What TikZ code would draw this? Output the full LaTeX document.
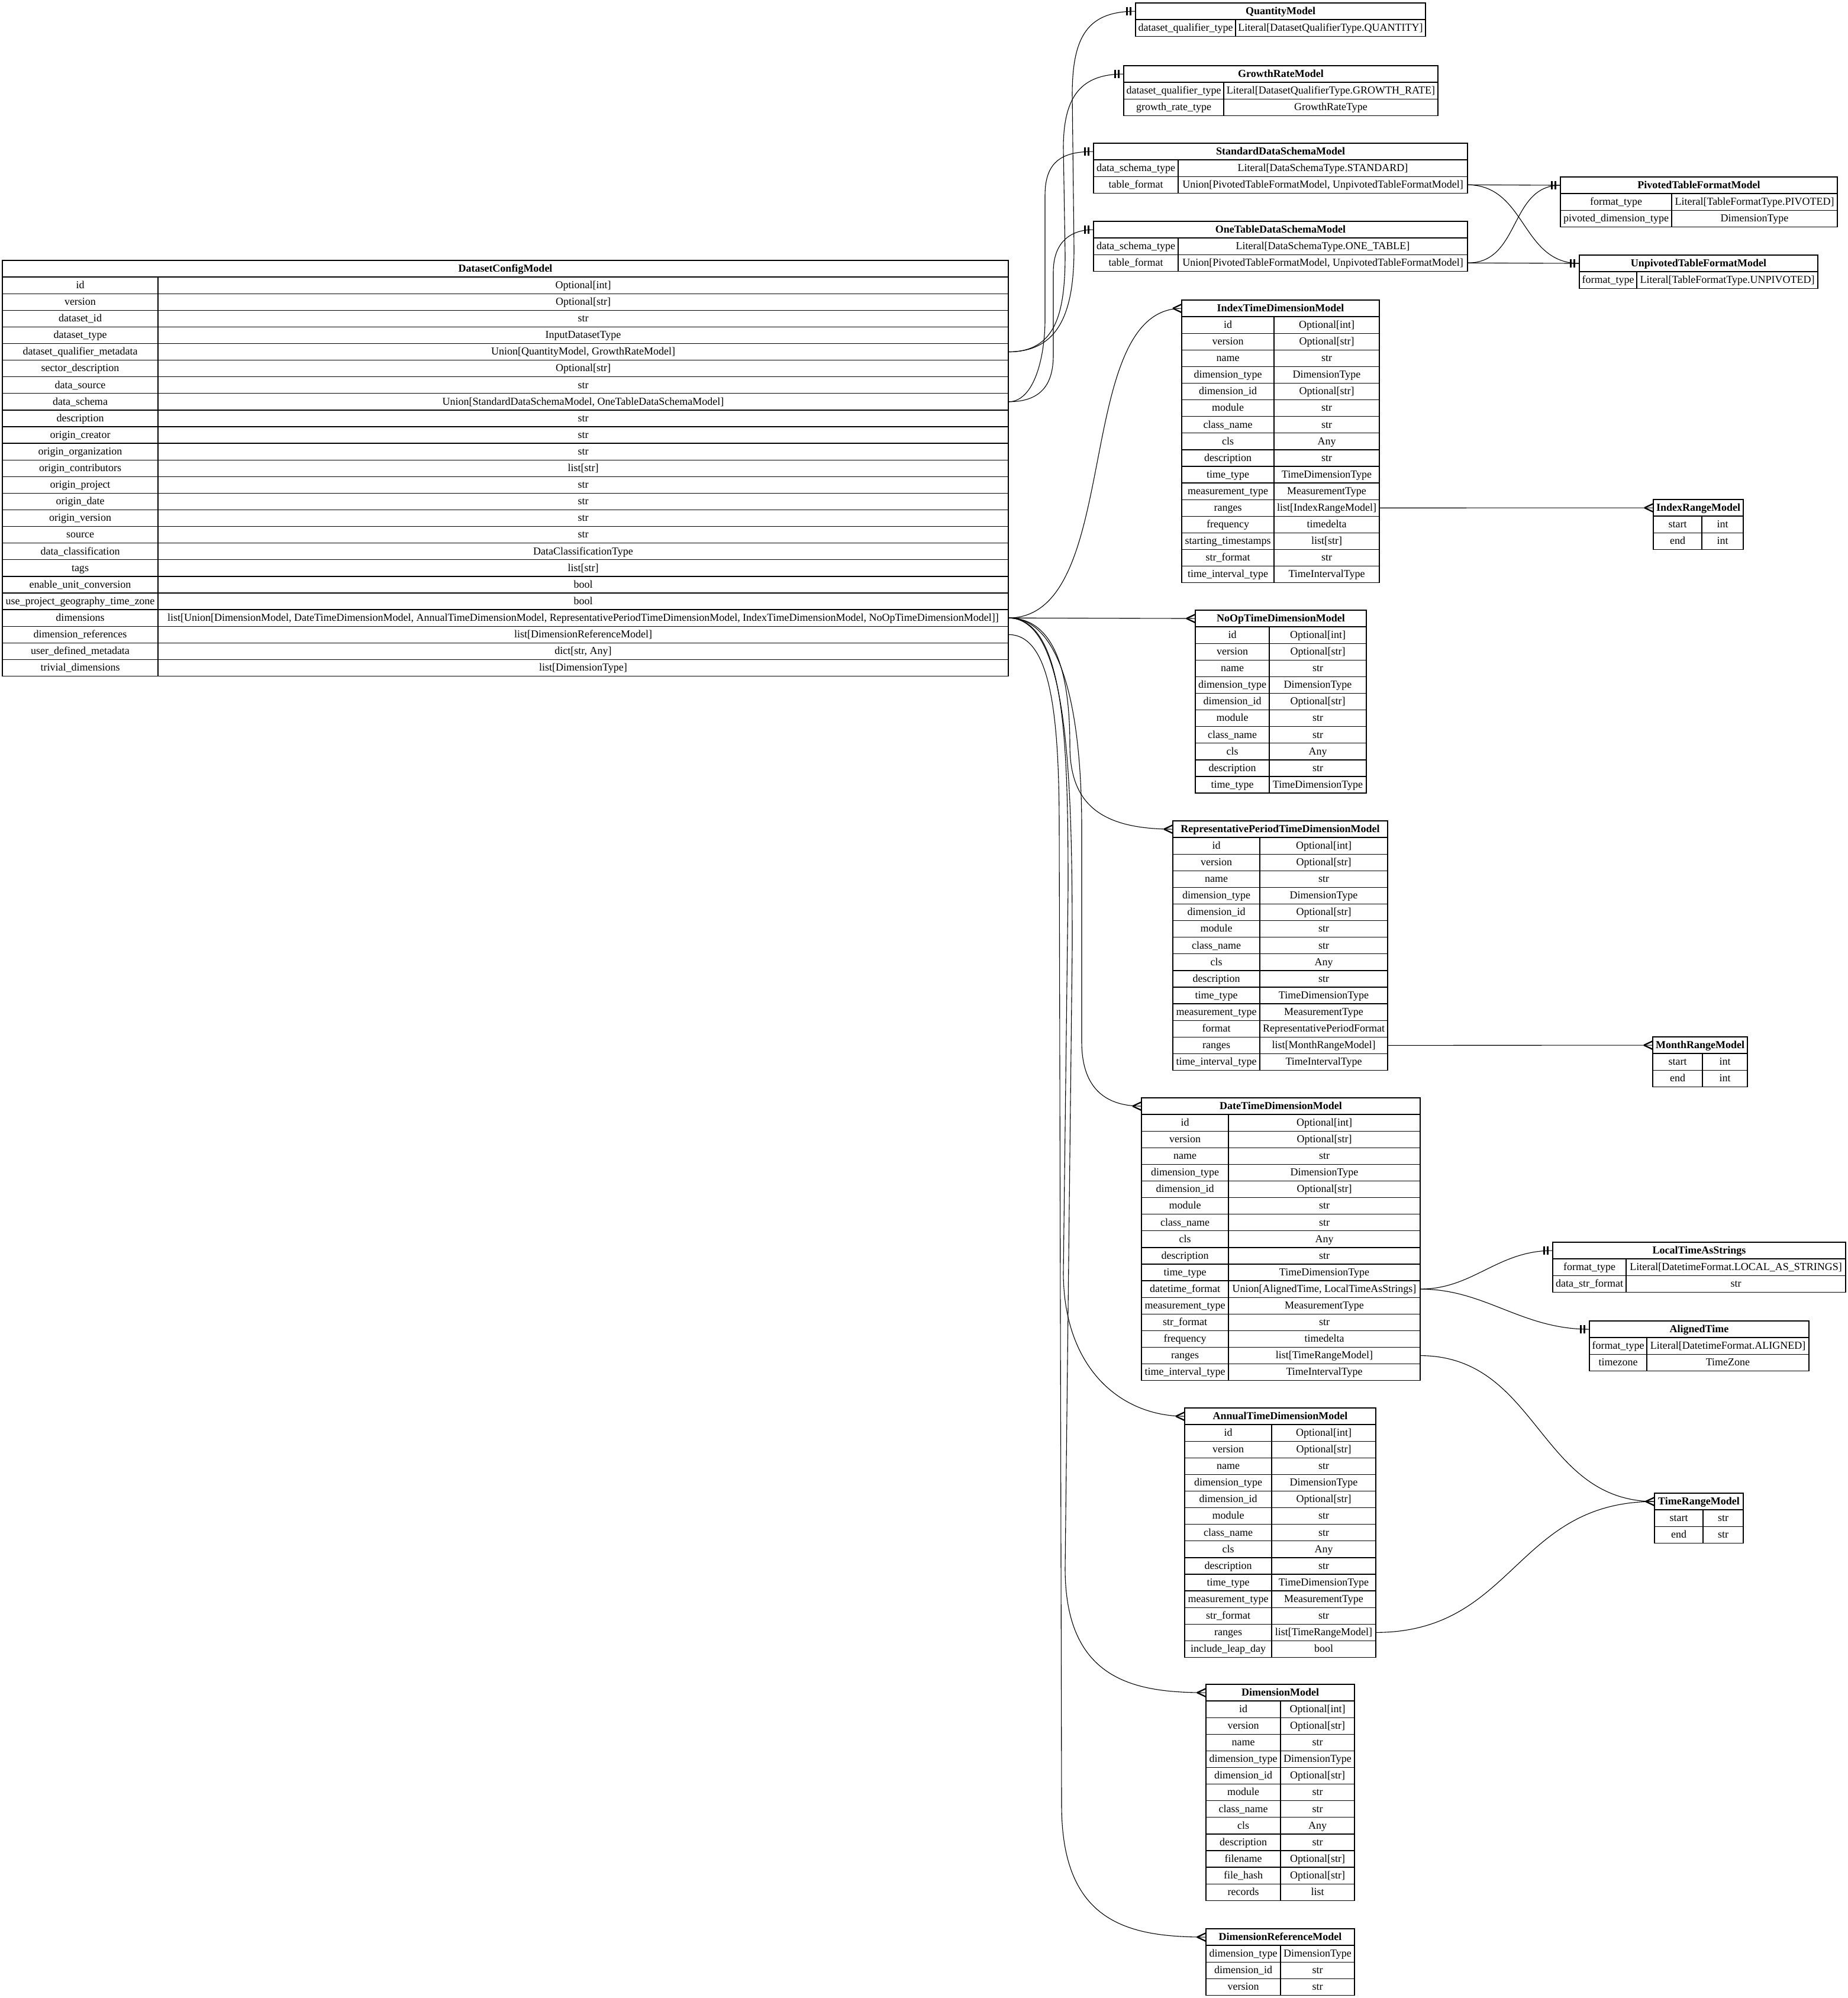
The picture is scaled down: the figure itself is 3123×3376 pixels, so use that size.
\documentclass[tikz,border=0pt]{standalone}
\usepackage{fontspec}
\setmainfont{Liberation Serif}
\usepackage{tikz}

\newcommand{\modelbox}[7]{%
  \node[hdr, minimum width={#4+#5}] (#1) at (#2,#3) {#6};
  \foreach \fname/\ftype [count=\i] in {#7} {
    \node[cell, minimum width=#4] (#1-\i) at (#2,{#3+28.1*\i}) {\fname};
    \node[cell, minimum width=#5] (#1-v\i) at ({#2+#4},{#3+28.1*\i}) {\ftype};
  }
}
\newcommand{\crowfoot}[1]{%
  \draw[crowline] ([xshift=-15pt]#1.west) -- ([yshift=7pt]#1.west)
                  ([xshift=-15pt]#1.west) -- ([yshift=-7pt]#1.west);
}
\newcommand{\onebar}[1]{%
  \draw[barline] ([xshift=-9pt,yshift=7pt]#1.west) -- ([xshift=-9pt,yshift=-7pt]#1.west)
                 ([xshift=-15pt,yshift=7pt]#1.west) -- ([xshift=-15pt,yshift=-7pt]#1.west);
}

\begin{document}
\catcode`\_=12
\begin{tikzpicture}[x=1pt,y=-1pt,
    every node/.style={font=\fontsize{18}{21}\selectfont},
    cell/.style={draw, line width=1.3pt, anchor=north west, inner sep=0pt, outer sep=0pt,
        minimum height=28.1pt, text height=13.5pt, text depth=3pt},
    hdr/.style={cell, font=\fontsize{18}{21}\selectfont\bfseries},
    link/.style={line width=1.1pt},
    crowline/.style={line width=2.3pt},
    barline/.style={line width=3pt}]
    \useasboundingbox (0,0) rectangle (3123,3376);

    \modelbox{dcm}{4}{440}{263}{1437}{DatasetConfigModel}{id/Optional[int], version/Optional[str], dataset_id/str, dataset_type/InputDatasetType, dataset_qualifier_metadata/{Union[QuantityModel, GrowthRateModel]}, sector_description/Optional[str], data_source/str, data_schema/{Union[StandardDataSchemaModel, OneTableDataSchemaModel]}, description/str, origin_creator/str, origin_organization/str, origin_contributors/list[str], origin_project/str, origin_date/str, origin_version/str, source/str, data_classification/DataClassificationType, tags/list[str], enable_unit_conversion/bool, use_project_geography_time_zone/bool, dimensions/{list[Union[DimensionModel, DateTimeDimensionModel, AnnualTimeDimensionModel, RepresentativePeriodTimeDimensionModel, IndexTimeDimensionModel, NoOpTimeDimensionModel]]}, dimension_references/list[DimensionReferenceModel], user_defined_metadata/{dict[str, Any]}, trivial_dimensions/list[DimensionType]}

    \modelbox{qm}{1919}{5}{169}{321}{QuantityModel}{dataset_qualifier_type/Literal[DatasetQualifierType.QUANTITY]}
    \modelbox{grm}{1899}{111}{169}{362}{GrowthRateModel}{dataset_qualifier_type/Literal[DatasetQualifierType.GROWTH_RATE], growth_rate_type/GrowthRateType}
    \modelbox{sds}{1848}{242}{143}{489}{StandardDataSchemaModel}{data_schema_type/Literal[DataSchemaType.STANDARD], table_format/{Union[PivotedTableFormatModel, UnpivotedTableFormatModel]}}
    \modelbox{ots}{1848}{374}{143}{489}{OneTableDataSchemaModel}{data_schema_type/Literal[DataSchemaType.ONE_TABLE], table_format/{Union[PivotedTableFormatModel, UnpivotedTableFormatModel]}}
    \modelbox{ptf}{2637}{299}{188}{280}{PivotedTableFormatModel}{format_type/Literal[TableFormatType.PIVOTED], pivoted_dimension_type/DimensionType}
    \modelbox{utf}{2669}{431}{97}{306}{UnpivotedTableFormatModel}{format_type/Literal[TableFormatType.UNPIVOTED]}

    \modelbox{itd}{1997}{507}{156}{178}{IndexTimeDimensionModel}{id/Optional[int], version/Optional[str], name/str, dimension_type/DimensionType, dimension_id/Optional[str], module/str, class_name/str, cls/Any, description/str, time_type/TimeDimensionType, measurement_type/MeasurementType, ranges/list[IndexRangeModel], frequency/timedelta, starting_timestamps/list[str], str_format/str, time_interval_type/TimeIntervalType}
    \modelbox{irm}{2794}{844}{82}{70}{IndexRangeModel}{start/int, end/int}
    \modelbox{ntd}{2020}{1031}{125}{164}{NoOpTimeDimensionModel}{id/Optional[int], version/Optional[str], name/str, dimension_type/DimensionType, dimension_id/Optional[str], module/str, class_name/str, cls/Any, description/str, time_type/TimeDimensionType}
    \modelbox{rtd}{1982}{1387}{147}{216}{RepresentativePeriodTimeDimensionModel}{id/Optional[int], version/Optional[str], name/str, dimension_type/DimensionType, dimension_id/Optional[str], module/str, class_name/str, cls/Any, description/str, time_type/TimeDimensionType, measurement_type/MeasurementType, format/RepresentativePeriodFormat, ranges/list[MonthRangeModel], time_interval_type/TimeIntervalType}
    \modelbox{mrm}{2793}{1752}{84}{76}{MonthRangeModel}{start/int, end/int}
    \modelbox{dtd}{1929}{1855}{147}{324}{DateTimeDimensionModel}{id/Optional[int], version/Optional[str], name/str, dimension_type/DimensionType, dimension_id/Optional[str], module/str, class_name/str, cls/Any, description/str, time_type/TimeDimensionType, datetime_format/{Union[AlignedTime, LocalTimeAsStrings]}, measurement_type/MeasurementType, str_format/str, frequency/timedelta, ranges/list[TimeRangeModel], time_interval_type/TimeIntervalType}
    \modelbox{lts}{2624}{2099}{124}{371}{LocalTimeAsStrings}{format_type/Literal[DatetimeFormat.LOCAL_AS_STRINGS], data_str_format/str}
    \modelbox{alt}{2686}{2232}{97}{274}{AlignedTime}{format_type/Literal[DatetimeFormat.ALIGNED], timezone/TimeZone}
    \modelbox{atd}{2002}{2379}{147}{176}{AnnualTimeDimensionModel}{id/Optional[int], version/Optional[str], name/str, dimension_type/DimensionType, dimension_id/Optional[str], module/str, class_name/str, cls/Any, description/str, time_type/TimeDimensionType, measurement_type/MeasurementType, str_format/str, ranges/list[TimeRangeModel], include_leap_day/bool}
    \modelbox{trm}{2796}{2523}{82}{68}{TimeRangeModel}{start/str, end/str}
    \modelbox{dim}{2038}{2846}{126}{125}{DimensionModel}{id/Optional[int], version/Optional[str], name/str, dimension_type/DimensionType, dimension_id/Optional[str], module/str, class_name/str, cls/Any, description/str, filename/Optional[str], file_hash/Optional[str], records/list}
    \modelbox{drm}{2038}{3259}{126}{125}{DimensionReferenceModel}{dimension_type/DimensionType, dimension_id/str, version/str}

    \draw[link] (dcm-v5.east) .. controls +(90,0) and +(0,100) .. (1815,420) -- (1812,160) .. controls +(0,-100) and +(-80,0) .. (qm.west);
    \draw[link] (dcm-v5.east) .. controls +(80,0) and +(0,100) .. (1800,430) -- (1797,250) .. controls +(0,-90) and +(-70,0) .. (grm.west);
    \draw[link] (dcm-v8.east) .. controls +(45,0) and +(0,60) .. (1766,540) -- (1766,330) .. controls +(0,-60) and +(-50,0) .. (sds.west);
    \draw[link] (dcm-v8.east) .. controls +(55,0) and +(0,50) .. (1780,600) -- (1780,460) .. controls +(0,-50) and +(-40,0) .. (ots.west);

    \draw[link] (sds-v2.east) -- (ptf.west);
    \draw[link] (sds-v2.east) .. controls (2580,313) and (2570,445) .. (utf.west);
    \draw[link] (ots-v2.east) -- (utf.west);
    \draw[link] (ots-v2.east) .. controls (2570,445) and (2550,313) .. (ptf.west);

    \draw[link] (dcm-v21.east) .. controls (1900,1044) and (1810,521) .. (itd.west);
    \draw[link] (dcm-v21.east) -- (ntd.west);
    \draw[link] (dcm-v21.east) .. controls +(80,0) and +(0,-120) .. (1808,1260) .. controls +(0,100) and +(-120,0) .. (rtd.west);
    \draw[link] (dcm-v21.east) .. controls +(90,0) and +(0,-200) .. (1828,1400) -- (1828,1760) .. controls +(0,80) and +(-60,0) .. (dtd.west);
    \draw[link] (dcm-v21.east) .. controls +(95,0) and +(0,-250) .. (1805,1500) -- (1797,2150) .. controls +(0,160) and +(-110,0) .. (atd.west);
    \draw[link] (dcm-v21.east) .. controls +(100,0) and +(0,-300) .. (1812,1600) -- (1800,2650) .. controls +(0,190) and +(-120,0) .. (dim.west);
    \draw[link] (dcm-v22.east) .. controls +(70,0) and +(0,-200) .. (1790,1400) -- (1794,3050) .. controls +(0,200) and +(-130,0) .. (drm.west);

    \draw[link] (itd-v12.east) -- (irm.west);
    \draw[link] (rtd-v13.east) -- (mrm.west);
    \draw[link] (dtd-v11.east) .. controls (2490,2178) and (2530,2113) .. (lts.west);
    \draw[link] (dtd-v11.east) .. controls (2510,2178) and (2570,2246) .. (alt.west);
    \draw[link] (dtd-v15.east) .. controls (2600,2291) and (2600,2537) .. (trm.west);
    \draw[link] (atd-v13.east) .. controls (2560,2758) and (2560,2537) .. (trm.west);

    \onebar{qm} \onebar{grm} \onebar{sds} \onebar{ots}
    \onebar{ptf} \onebar{utf} \onebar{lts} \onebar{alt}
    \crowfoot{itd} \crowfoot{ntd} \crowfoot{rtd} \crowfoot{dtd} \crowfoot{atd}
    \crowfoot{dim} \crowfoot{drm} \crowfoot{irm} \crowfoot{mrm} \crowfoot{trm}
\end{tikzpicture}
\end{document}
